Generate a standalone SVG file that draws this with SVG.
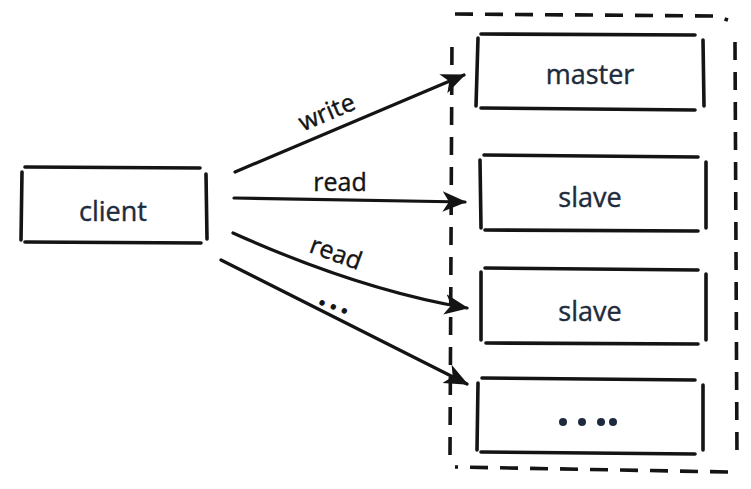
<svg xmlns="http://www.w3.org/2000/svg" width="751" height="489" viewBox="0 0 751 489">
<style>
.b{fill:none;stroke:#141414;stroke-width:3.6;stroke-linecap:round}
.d{fill:none;stroke:#141414;stroke-width:3.6;stroke-dasharray:18 12}
.c{fill:none;stroke:#141414;stroke-width:3.2;stroke-linecap:round}
.t{font-family:"Open Sans","Liberation Sans",sans-serif;font-size:27px;fill:#1e2b3c;text-anchor:middle;stroke:#1e2b3c;stroke-width:0.4}
.l{font-family:"Open Sans","Liberation Sans",sans-serif;font-size:25px;fill:#141414;text-anchor:middle;stroke:#141414;stroke-width:0.4}
</style>
<defs>
<marker id="ah" markerWidth="8" markerHeight="8" refX="7" refY="4" orient="auto" markerUnits="strokeWidth">
<path d="M0,0.8 L7.5,4 L0,7.2 L2,4 Z" fill="#141414"/>
</marker>
</defs>
<rect width="751" height="489" fill="#fff"/>
<g id="container">
<path class="d" d="M455,14 L715,16 L728,20 M735,42 L737,460 M728,472 L455,467 M450,455 L452,36"/>
</g>
<g id="client">
<path class="b" d="M25,167 L200,168 M22,172 L21,240 M25,242 L201,243 M206,174 L207,239"/>
<text class="t" x="113" y="221">client</text>
</g>
<g id="master">
<path class="b" d="M481,34 L695,35 M478,38 L476,106 M481,108 L695,110 M703,40 L704,106"/>
<text class="t" x="590" y="84">master</text>
</g>
<g id="slave1">
<path class="b" d="M484,155 L698,157 M480,160 L481,228 M485,230 L698,231 M706,162 L706,228"/>
<text class="t" x="590" y="207">slave</text>
</g>
<g id="slave2">
<path class="b" d="M485,268 L698,270 M481,272 L481,340 M486,343 L698,344 M706,274 L706,340"/>
<text class="t" x="590" y="321">slave</text>
</g>
<g id="more">
<path class="b" d="M482,378 L695,380 M478,383 L477,450 M481,452 L695,454 M703,385 L703,450"/>
<circle cx="563" cy="422" r="4" fill="#1e2b3c"/>
<circle cx="582" cy="422" r="4" fill="#1e2b3c"/>
<circle cx="601" cy="422" r="4" fill="#1e2b3c"/>
<circle cx="613" cy="422" r="4" fill="#1e2b3c"/>
</g>
<g id="connectors">
<path class="c" d="M235,172 L464,75" marker-end="url(#ah)"/>
<path class="c" d="M234,198 L465,202" marker-end="url(#ah)"/>
<path class="c" d="M233,233 Q360,290 467,308" marker-end="url(#ah)"/>
<path class="c" d="M221,260 Q340,320 467,384" marker-end="url(#ah)"/>
<text class="l" transform="translate(330,120) rotate(-23)">write</text>
<text class="l" x="340" y="191">read</text>
<text class="l" transform="translate(333,261) rotate(20)">read</text>
<text class="l" style="font-size:34px;letter-spacing:3px;stroke-width:1.4" transform="translate(334,309) rotate(20)">...</text>
</g>
</svg>
